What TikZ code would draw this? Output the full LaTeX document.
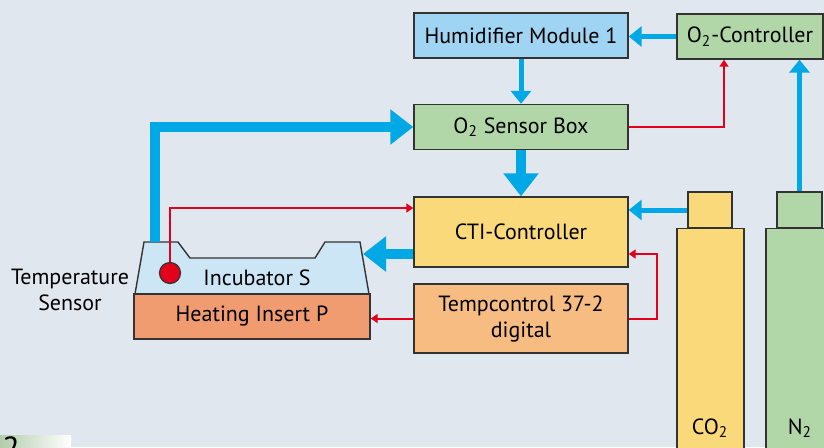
\documentclass[tikz,border=0pt]{standalone}
\usepackage{fontspec}
\setmainfont{PT Sans}
\usetikzlibrary{arrows.meta,calc}
\definecolor{panelgrey}{RGB}{224,231,239}
\definecolor{flowblue}{RGB}{0,168,230}
\definecolor{sigred}{RGB}{226,0,26}
\definecolor{humblue}{RGB}{160,212,243}
\definecolor{gasgreen}{RGB}{177,214,168}
\definecolor{ctiyellow}{RGB}{250,217,122}
\definecolor{tempbeige}{RGB}{246,188,130}
\definecolor{heatsalmon}{RGB}{241,155,112}
\definecolor{incublue}{RGB}{204,230,246}
\tikzset{
  cbox/.style    ={rectangle, draw=black!80, line width=0.7pt, minimum width=107pt,
                   minimum height=22.5pt, inner sep=1pt, align=center,
                   font=\fontsize{11}{13}\selectfont},
  cbottle/.style ={rectangle, draw=black!80, line width=0.7pt, inner sep=0pt},
  cincub/.style  ={draw=black!80, line width=0.7pt, fill=incublue, line join=miter},
  ctext/.style   ={inner sep=1pt, align=center, font=\fontsize{11}{13}\selectfont},
  cflow/.style   ={-{Triangle[length=6.5pt, width=10pt]}, line width=2.5pt, flowblue},
  cflowfat/.style={-{Triangle[length=11.5pt, width=17pt]}, line width=4.6pt, flowblue,
                   line join=miter},
  csig/.style    ={-{Triangle[length=3.5pt, width=4.5pt]}, line width=1pt, sigred},
  cdot/.style    ={circle, draw=black!80, fill=sigred, line width=0.6pt,
                   minimum size=10.5pt, inner sep=0pt},
}
\begin{document}
\begin{tikzpicture}[x=0.5pt, y=-0.5pt]
  \useasboundingbox (0,0) rectangle (824,447);
  \clip (0,0) rectangle (824,447);
  \fill[panelgrey] (0,0) rectangle (824,447);
  \shade[left color=gasgreen!90!black!80, right color=white] (0,435) rectangle (71,447);
  \node[anchor=north west, inner sep=0pt, font=\fontsize{16}{16}\selectfont] (fignum) at (2,436) {2};

  \draw[cincub] (135,294) -- (144,242) -- (178,242) -- (190,258) -- (315,258)
    -- (325,242) -- (360,242) -- (369,294) -- cycle;
  \coordinate (inctop) at (155,242);
  \coordinate (incright) at (363,254);
  \node[ctext] (inclbl) at (257,278) {Incubator S};
  \node[ctext] (tslbl) at (70,290) {Temperature\\Sensor};

  \node[cbox, fill=humblue] (hum) at (521,35.5) {Humidifier Module 1};
  \node[cbox, fill=gasgreen, minimum width=73pt] (o2c) at (750,36.5) {O\textsubscript{2}-Controller};
  \node[cbox, fill=gasgreen] (sens) at (521,127) {O\textsubscript{2} Sensor Box};
  \node[cbox, fill=ctiyellow, minimum height=35pt] (cti) at (521,232) {CTI-Controller};
  \node[cbox, fill=tempbeige, minimum height=34.5pt] (temp) at (521,318.5) {Tempcontrol 37-2\\digital};
  \node[cbox, fill=heatsalmon, minimum width=118pt] (heat) at (252,316.5) {Heating Insert P};

  \node[cbottle, fill=ctiyellow, minimum width=33.5pt, minimum height=120pt, anchor=north] (co2) at (710.5,228) {};
  \node[cbottle, fill=ctiyellow, minimum width=22pt, minimum height=18pt] (co2cap) at (710,210) {};
  \node[cbottle, fill=gasgreen, minimum width=33.5pt, minimum height=120pt, anchor=north] (n2) at (799.5,228) {};
  \node[cbottle, fill=gasgreen, minimum width=22.5pt, minimum height=18pt] (n2cap) at (799.5,210) {};
  \node[ctext] (co2lbl) at (710,428) {CO\textsubscript{2}};
  \node[ctext] (n2lbl) at (800,428) {N\textsubscript{2}};

  \draw[cflow] (o2c.west) -- (o2c.west -| hum.east);
  \draw[cflow] (hum.south) -- (sens.north);
  \draw[cflowfat] (sens.south) -- (cti.north);
  \draw[cflowfat] (inctop) |- (sens.west);
  \draw[cflowfat] (cti.west |- incright) -- (incright);
  \draw[cflow] (co2cap.west) -- (co2cap.west -| cti.east);
  \draw[cflow] (n2cap.north) -- (n2cap.north |- o2c.south);

  \node[cdot] (tsens) at (170,273) {};
  \draw[csig] (tsens.north) |- ([yshift=12pt]cti.west);
  \draw[csig] (sens.east) -| ([xshift=-13pt]o2c.south);
  \draw[csig] (temp.east) -- ++(14pt,0) |- ([yshift=-11pt]cti.east);
  \draw[csig] (temp.west) -- (temp.west -| heat.east);
\end{tikzpicture}
\end{document}
